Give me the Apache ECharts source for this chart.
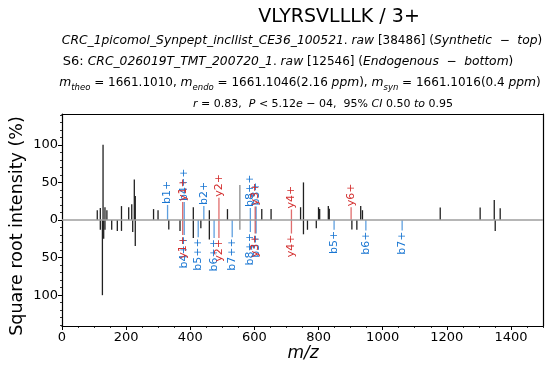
<!DOCTYPE html>
<html><head><meta charset="utf-8">
<script src="https://cdn.jsdelivr.net/npm/echarts@6/dist/echarts.min.js"></script>
<style>html,body{margin:0;padding:0;background:#fff}#c{width:558px;height:368px}</style>
</head><body><div id="c"></div>
<script>
// Synthetic spectrum (top), unannotated peaks
const synMz  = [110, 119.5, 128, 134, 140, 185.5, 208, 217.5, 225.5, 228.5, 285.5, 299.5, 409.5, 459.5, 516, 623, 652, 744, 753, 800, 803.5, 830.5, 833.5, 931.5, 937, 1179.5, 1304, 1348, 1366.5];
const synInt = [13, 16, 100, 17, 13, 18.5, 17, 21, 54, 32, 14.5, 13, 17, 13, 14.5, 14.5, 14.5, 17, 50, 17, 14.5, 18.5, 15, 18.5, 13, 16.5, 16.5, 26.5, 15.5];
// Endogenous spectrum (bottom), unannotated peaks
const endoMz  = [119.5, 126, 130, 134, 155, 172.5, 185.5, 220.5, 228.5, 333, 368, 409.5, 433, 459.5, 753, 765.5, 793, 904, 919.5, 1351];
const endoInt = [13, 100, 25, 13, 13, 14.5, 14.5, 16, 34.5, 12.5, 14.5, 24, 11, 26, 19, 13, 11, 12.5, 13, 14.5];
// Precursor peak (grey)
const precMz = [554.7];
const synPrecInt = [46.5];
const endoPrecInt = [13];
// Annotated fragment peaks
const synAnnMz    = [329.2, 381.2, 376.3, 442.3, 489.4, 587.4, 605.4, 602.4, 715.5, 901.6];
const synAnnInt   = [20, 24, 24, 18.5, 29.5, 16, 18, 18, 14, 17];
const synAnnLabel = ['b1+', 'b4++', 'y1+', 'b2+', 'y2+', 'b8++', 'b3+', 'y3+', 'y4+', 'y6+'];
const endoAnnMz    = [381.2, 376.3, 424.8, 474.3, 489.4, 530.8, 587.4, 605.4, 602.4, 715.5, 848.5, 947.6, 1060.7];
const endoAnnInt   = [20, 20, 23, 24, 24, 23, 16, 18, 18, 18, 13, 14, 14];
const endoAnnLabel = ['b4++', 'y1+', 'b5++', 'b6++', 'y2+', 'b7++', 'b8++', 'b3+', 'y3+', 'y4+', 'b5+', 'b6+', 'b7+'];
// Ticks
const xTicks = [0, 200, 400, 600, 800, 1000, 1200, 1400];
const yTicks = [-100, -50, 0, 50, 100];

const xMinor = []; for (let v = 0; v <= 1500; v += 50) xMinor.push(v);
const yMinor = []; for (let v = -140; v <= 140; v += 10) yMinor.push(v);

const FONT = '"DejaVu Sans", sans-serif';
const ionColor = {b: '#1976D2', y: '#D32F2F'};

function peakSeries(name, mz, ints, sign, color) {
  return {
    type: 'custom', name, xAxisIndex: 0, yAxisIndex: 0, z: 3,
    data: mz.map((m, i) => [m, sign * ints[i]]),
    renderItem: (params, api) => {
      const p0 = api.coord([api.value(0), 0]);
      const p1 = api.coord([api.value(0), api.value(1)]);
      return {type: 'line', shape: {x1: p0[0], y1: p0[1], x2: p1[0], y2: p1[1]},
              style: {stroke: color, lineWidth: 1.3}};
    }
  };
}
function annSeries(name, mz, ints, labels, sign) {
  return {
    type: 'custom', name, xAxisIndex: 0, yAxisIndex: 0, z: 4,
    data: mz.map((m, i) => [m, sign * ints[i], i]),
    renderItem: (params, api) => {
      const lab = labels[api.value(2)];
      const col = ionColor[lab[0]];
      const p0 = api.coord([api.value(0), 0]);
      const p1 = api.coord([api.value(0), api.value(1)]);
      return {type: 'group', children: [
        {type: 'line', shape: {x1: p0[0], y1: p0[1], x2: p1[0], y2: p1[1]},
         style: {stroke: col, lineWidth: 1.3, opacity: 0.7}},
        {type: 'text', x: p1[0], y: p1[1] + (sign > 0 ? -1 : 1), rotation: Math.PI / 2,
         style: {text: lab, fill: col, font: '11px ' + FONT,
                 align: sign > 0 ? 'left' : 'right', verticalAlign: 'middle'}}
      ]};
    }
  };
}

const chart = echarts.init(document.getElementById('c'), null, {renderer: 'canvas'});
const n = {fontSize: 11, fontFamily: FONT, color: '#000'};
const it = {fontSize: 12.3, fontFamily: FONT, fontStyle: 'italic', color: '#000'};
const frameLine = {show: true, onZero: false, lineStyle: {color: '#000', width: 1.2}};
chart.setOption({
  animation: false,
  backgroundColor: '#fff',
  grid: {left: 62, right: 15, top: 114, bottom: 42},
  xAxis: [
    {type: 'value', min: 0, max: 1500, position: 'bottom',
     axisLine: frameLine,
     axisTick: {show: true, customValues: xTicks, length: 4, inside: false, lineStyle: {color: '#000', width: 1}},
     axisLabel: {show: true, customValues: xTicks, color: '#000', fontSize: 13, fontFamily: FONT, margin: 5,
                 formatter: v => String(v)},
     splitLine: {show: false}},
    {type: 'value', min: 0, max: 1500, position: 'bottom',
     axisLine: {show: false, onZero: false},
     axisTick: {show: true, customValues: xMinor, length: 2, lineStyle: {color: '#000', width: 0.8}},
     axisLabel: {show: false}, splitLine: {show: false}},
    {type: 'value', min: 0, max: 1500, position: 'top',
     axisLine: frameLine,
     axisTick: {show: false}, axisLabel: {show: false}, splitLine: {show: false}}
  ],
  yAxis: [
    {type: 'value', min: -141, max: 141, position: 'left',
     axisLine: frameLine,
     axisTick: {show: true, customValues: yTicks, length: 4, lineStyle: {color: '#000', width: 1}},
     axisLabel: {show: true, customValues: yTicks, color: '#000', fontSize: 13, fontFamily: FONT, margin: 4,
                 formatter: v => String(Math.abs(v))},
     splitLine: {show: false}},
    {type: 'value', min: -141, max: 141, position: 'left',
     axisLine: {show: false, onZero: false},
     axisTick: {show: true, customValues: yMinor, length: 2, lineStyle: {color: '#000', width: 0.8}},
     axisLabel: {show: false}, splitLine: {show: false}},
    {type: 'value', min: -141, max: 141, position: 'right',
     axisLine: frameLine,
     axisTick: {show: false}, axisLabel: {show: false}, splitLine: {show: false}}
  ],
  series: [
    {type: 'line', xAxisIndex: 0, yAxisIndex: 0, data: [[0, 0], [1500, 0]], symbol: 'none', z: 5,
     lineStyle: {color: '#9E9E9E', width: 1.5}, silent: true},
    peakSeries('syn', synMz, synInt, 1, '#212121'),
    peakSeries('endo', endoMz, endoInt, -1, '#212121'),
    peakSeries('synPrec', precMz, synPrecInt, 1, '#8a8a8a'),
    peakSeries('endoPrec', precMz, endoPrecInt, -1, '#8a8a8a'),
    annSeries('synAnn', synAnnMz, synAnnInt, synAnnLabel, 1),
    annSeries('endoAnn', endoAnnMz, endoAnnInt, endoAnnLabel, -1)
  ],
  graphic: [
    {type: 'text', x: 339, y: 17, style: {text: 'VLYRSVLLLK / 3+', font: '19px ' + FONT, fill: '#000', align: 'center', verticalAlign: 'middle'}},
    {type: 'text', x: 302, y: 41, style: {
      text: '{i|CRC_1picomol_Synpept_incllist_CE36_100521}{n|. }{i|raw}{n| [38486] (}{i|Synthetic}{n|  −  }{i|top}{n|)}',
      align: 'center', verticalAlign: 'middle', rich: {i: it, n: Object.assign({}, n, {fontSize: 12})}}},
    {type: 'text', x: 288, y: 62, style: {
      text: '{s|S6: }{i|CRC_026019T_TMT_200720_1}{n|. }{i|raw}{n| [12546] (}{i|Endogenous}{n|  −  }{i|bottom}{n|)}',
      align: 'center', verticalAlign: 'middle', rich: {i: it, n: Object.assign({}, n, {fontSize: 12}), s: {fontSize: 13, fontFamily: FONT, color: '#000'}}}},
    {type: 'text', x: 300, y: 84, style: {
      text: '{i|m}{sub|theo}{n| = 1661.1010, }{i|m}{sub|endo}{n| = 1661.1046(2.16 }{i|ppm}{n|), }{i|m}{sub|syn}{n| = 1661.1016(0.4 }{i|ppm}{n|)}',
      align: 'center', verticalAlign: 'middle',
      rich: {i: Object.assign({}, it, {verticalAlign: 'bottom', lineHeight: 16, padding: [0, 0, 3, 0]}),
             n: Object.assign({}, n, {fontSize: 12, verticalAlign: 'bottom', lineHeight: 16, padding: [0, 0, 3, 0]}),
             sub: {fontSize: 8.5, fontFamily: FONT, fontStyle: 'italic', color: '#000', verticalAlign: 'bottom', lineHeight: 16}}}},
    {type: 'text', x: 323, y: 104, style: {
      text: '{i|r}{n| = 0.83,  }{i|P}{n| < 5.12}{i|e}{n| − 04,  95% }{i|CI}{n| 0.50 }{i|to}{n| 0.95}',
      align: 'center', verticalAlign: 'middle', rich: {i: Object.assign({}, it, {fontSize: 11}), n: n}}},
    {type: 'text', x: 17, y: 226, rotation: Math.PI / 2, style: {text: 'Square root intensity (%)', font: '17.5px ' + FONT, fill: '#000', align: 'center', verticalAlign: 'middle'}},
    {type: 'text', x: 303, y: 354, style: {text: 'm/z', font: 'italic 17px ' + FONT, fill: '#000', align: 'center', verticalAlign: 'middle'}}
  ]
});
</script></body></html>
